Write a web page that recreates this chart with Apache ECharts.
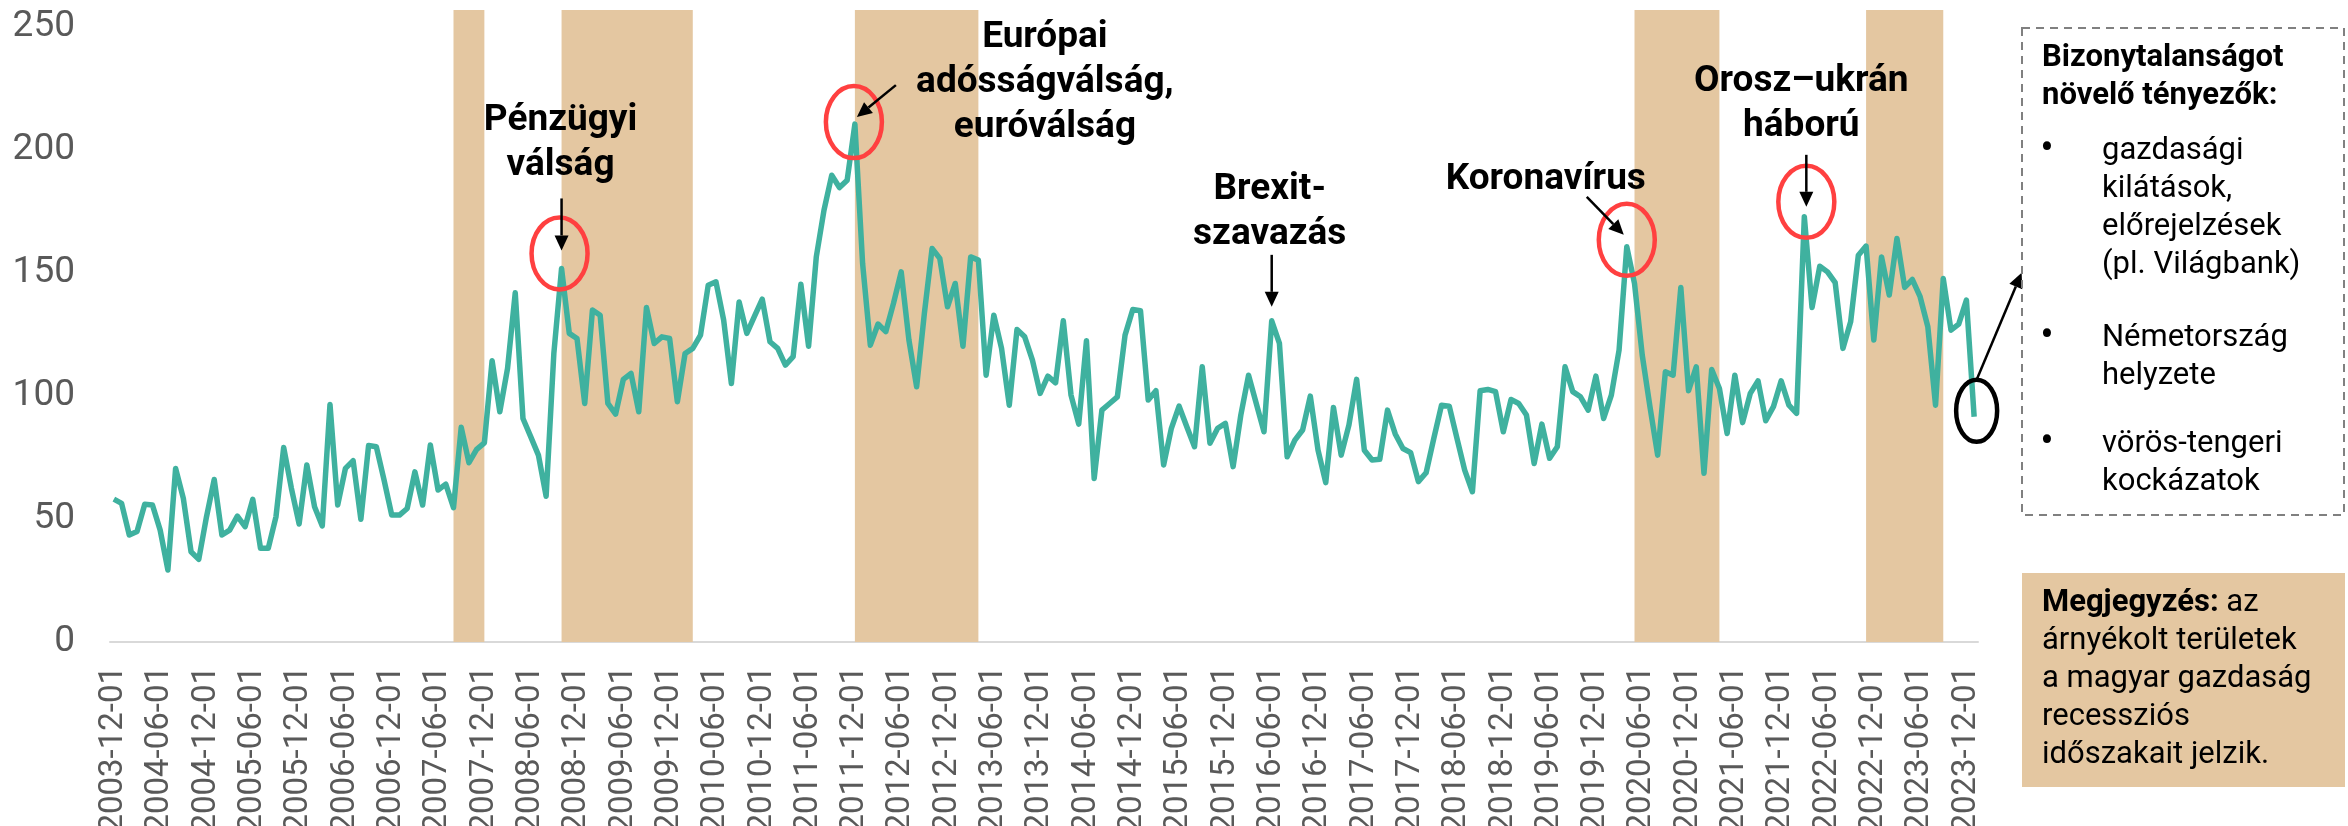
<!DOCTYPE html>
<html>
<head>
<meta charset="utf-8">
<script src="https://cdn.jsdelivr.net/npm/echarts@6/dist/echarts.min.js"></script>
<style>html,body{margin:0;padding:0;background:#fff}</style>
</head>
<body>
<div id="chart" style="width:2348px;height:826px"></div>
<script>
// havi bizonytalansági index, 2003-12 .. 2024-01
var startYear = 2003, startMonth = 12;
var uncertainty = [
  58.1, 56.4, 43.5, 44.9, 56.0, 55.7, 45.5, 29.3, 70.6, 58.4,
  36.7, 33.6, 50.9, 66.1, 43.5, 45.5, 51.2, 46.9, 58.0, 38.1,
  38.1, 50.9, 79.1, 62.5, 48.0, 72.0, 55.0, 47.2, 96.6, 55.7,
  70.6, 73.7, 49.9, 79.9, 79.4, 65.9, 51.6, 51.6, 54.3, 69.2,
  55.7, 80.1, 61.8, 64.2, 54.6, 87.3, 72.9, 78.3, 81.0, 114.4,
  93.6, 111.2, 142.0, 90.9, 83.5, 76.0, 59.3, 117.3, 151.9, 125.5,
  123.4, 97.0, 135.0, 132.9, 97.0, 92.7, 106.8, 109.2, 93.6, 136.0,
  121.4, 124.1, 123.4, 97.7, 117.3, 119.4, 124.8, 145.1, 146.5, 130.9,
  105.1, 138.3, 125.5, 132.5, 139.4, 122.1, 119.4, 112.6, 116.0, 145.5,
  120.3, 156.6, 175.6, 189.8, 184.8, 187.8, 210.6, 153.9, 120.7, 129.3,
  126.2, 137.7, 150.5, 122.8, 103.8, 133.6, 160.0, 156.0, 136.3, 145.8,
  120.3, 156.6, 155.3, 108.5, 132.9, 119.4, 96.3, 127.1, 124.1, 114.6,
  101.1, 108.1, 105.4, 130.6, 100.4, 88.6, 122.5, 66.5, 94.3, 97.0,
  99.7, 124.8, 135.2, 134.7, 98.4, 102.2, 72.0, 86.9, 95.9, 87.5,
  79.4, 111.9, 80.8, 86.9, 88.9, 71.3, 92.3, 108.5, 97.0, 85.5,
  130.6, 121.4, 75.3, 82.1, 86.2, 100.0, 78.0, 64.8, 95.4, 76.0,
  88.2, 106.8, 78.0, 74.0, 74.3, 94.3, 84.6, 78.7, 77.0, 65.2,
  68.8, 82.8, 96.3, 95.9, 82.8, 69.9, 61.1, 102.2, 102.7, 101.8,
  85.5, 98.6, 97.0, 92.3, 72.6, 88.6, 74.7, 79.4, 111.9, 101.8,
  99.7, 94.3, 108.1, 90.9, 100.4, 118.7, 160.7, 145.8, 116.7, 95.7,
  76.0, 109.9, 108.5, 144.2, 102.2, 111.9, 68.6, 110.8, 103.1, 84.8,
  108.5, 89.2, 101.1, 106.2, 90.0, 95.7, 106.2, 96.3, 93.0, 172.9,
  136.0, 152.8, 150.5, 146.1, 119.4, 130.2, 157.3, 161.0, 122.8, 156.6,
  141.1, 164.1, 144.2, 147.4, 140.4, 128.2, 96.3, 147.8, 126.8, 129.3,
  139.0, 91.6
];
// magyar recessziós időszakok (árnyékolt)
var recessions = [
  ['2007-08-01', '2007-12-01'],
  ['2008-10-01', '2010-03-01'],
  ['2011-12-01', '2013-04-01'],
  ['2020-05-01', '2021-04-01'],
  ['2022-11-01', '2023-09-01']
];
var events = ['2008-10-01', '2011-12-01', '2016-06-01', '2020-04-01', '2022-03-01', '2024-01-01'];
var eventLabels = ['Pénzügyi\nválság', 'Európai\nadósságválság,\neuróválság', 'Brexit-\nszavazás', 'Koronavírus', 'Orosz–ukrán\nháború', ''];
var factorsTitle = 'Bizonytalanságot\nnövelő tényezők:';
var factors = ['gazdasági\nkilátások,\nelőrejelzések\n(pl. Világbank)', 'Németország\nhelyzete', 'vörös-tengeri\nkockázatok'];
var noteText = '{b|Megjegyzés:} az\nárnyékolt területek\na magyar gazdaság\nrecessziós\nidőszakait jelzik.';

var months = [];
for (var i = 0; i < uncertainty.length; i++) {
  var m = startMonth - 1 + i;
  var y = startYear + Math.floor(m / 12), mo = m % 12 + 1;
  months.push(y + '-' + (mo < 10 ? '0' + mo : mo) + '-01');
}

var chart = echarts.init(document.getElementById('chart'));
chart.setOption({
  animation: false,
  backgroundColor: '#fff',
  textStyle: { fontFamily: 'Roboto' },
  grid: { left: 110, right: 370, top: 10, bottom: 184, containLabel: false, outerBoundsMode: 'none' },
  xAxis: {
    type: 'category',
    data: months,
    boundaryGap: true,
    axisLine: { lineStyle: { color: '#D9D9D9', width: 2 } },
    axisTick: { show: false },
    axisLabel: { interval: 5, rotate: 90, margin: 24, color: '#595959', fontSize: 33, fontFamily: 'Roboto' }
  },
  yAxis: {
    type: 'value',
    min: 0,
    max: 257,
    interval: 50,
    axisLine: { show: false },
    axisTick: { show: false },
    splitLine: { show: false },
    axisLabel: {
      margin: 35, color: '#595959', fontSize: 37, fontFamily: 'Roboto',
      formatter: function (v) { return v % 50 === 0 ? v : ''; }
    }
  },
  series: [
    {
      type: 'line',
      data: [],
      z: 1,
      markArea: {
        silent: true,
        itemStyle: { color: '#E4C7A1' },
        data: recessions.map(function (r) { return [{ xAxis: r[0] }, { xAxis: r[1] }]; })
      }
    },
    {
      type: 'line',
      data: uncertainty,
      symbol: 'none',
      z: 3,
      lineStyle: { color: '#3FB19F', width: 5.5, join: 'round' }
    }
  ]
});

// annotációk elhelyezése a csúcsokhoz képest (px eltolás)
var layout = [
  { text: [-1, -170], arrow: [0, -70, 0, -18], ring: [-2, -15, 28, 36, '#FF4040'] },
  { text: [190, -109], arrow: [41, -39, 2, -7], ring: [-1, -2, 28, 36, '#FF4040'] },
  { text: [-2, -154], arrow: [0, -66, 0, -14] },
  { text: [-81, -90], arrow: [-40, -50, -3, -12], ring: [0, -7, 28, 36, '#FF4040'] },
  { text: [-3, -158], arrow: [2, -62, 2, -10], ring: [2, -15, 28, 36, '#FF4040'] },
  { arrow: [2.5, -37, 47.5, -144], ring: [2.5, -6, 20.5, 31, '#000'] }
];

function arrow(x1, y1, x2, y2) {
  var dx = x2 - x1, dy = y2 - y1, len = Math.sqrt(dx * dx + dy * dy);
  var ux = dx / len, uy = dy / len, hl = 15, hw = 7;
  var bx = x2 - ux * hl, by = y2 - uy * hl;
  return [
    { type: 'line', z: 10, shape: { x1: x1, y1: y1, x2: bx, y2: by }, style: { stroke: '#000', lineWidth: 2.5 } },
    { type: 'polygon', z: 10, shape: { points: [[x2, y2], [bx - uy * hw, by + ux * hw], [bx + uy * hw, by - ux * hw]] }, style: { fill: '#000' } }
  ];
}

var g = [];
events.forEach(function (ev, i) {
  var k = months.indexOf(ev);
  var p = chart.convertToPixel({ seriesIndex: 1 }, [k, uncertainty[k]]);
  var L = layout[i];
  if (L.ring) {
    g.push({ type: 'ellipse', z: 10, shape: { cx: p[0] + L.ring[0], cy: p[1] + L.ring[1], rx: L.ring[2], ry: L.ring[3] },
      style: { fill: 'none', stroke: L.ring[4], lineWidth: 4.5 } });
  }
  g = g.concat(arrow(p[0] + L.arrow[0], p[1] + L.arrow[1], p[0] + L.arrow[2], p[1] + L.arrow[3]));
  if (L.text) {
    g.push({ type: 'text', z: 10, x: p[0] + L.text[0], y: p[1] + L.text[1],
      style: { text: eventLabels[i], fontSize: 37, fontWeight: 'bold', fontFamily: 'Roboto', fill: '#000',
        align: 'center', verticalAlign: 'top', lineHeight: 45 } });
  }
});

// jobb oldali panel
var panelFont = { fontSize: 31, fontFamily: 'Roboto', fill: '#000', verticalAlign: 'top', lineHeight: 38 };
g.push({ type: 'rect', z: 10, shape: { x: 2022, y: 28, width: 322, height: 487 },
  style: { fill: 'none', stroke: '#808080', lineWidth: 2, lineDash: [8, 6] } });
g.push({ type: 'text', z: 10, x: 2042, y: 39, style: Object.assign({ text: factorsTitle, fontWeight: 'bold' }, panelFont) });
var factorTops = [132, 319, 425];
factors.forEach(function (f, i) {
  g.push({ type: 'text', z: 10, x: 2047, y: factorTops[i] + 19, style: { text: '•', fontSize: 40, fontFamily: 'Roboto', fill: '#000', align: 'center', verticalAlign: 'middle' } });
  g.push({ type: 'text', z: 10, x: 2102, y: factorTops[i], style: Object.assign({ text: f }, panelFont) });
});
g.push({ type: 'rect', z: 10, shape: { x: 2022, y: 573, width: 323, height: 214 }, style: { fill: '#E4C7A1' } });
g.push({ type: 'text', z: 11, x: 2042, y: 584, style: Object.assign({
  text: noteText,
  rich: { b: { fontWeight: 'bold', fontSize: 31, fontFamily: 'Roboto', lineHeight: 38 } }
}, panelFont) });

chart.setOption({ graphic: g });
</script>
</body>
</html>
